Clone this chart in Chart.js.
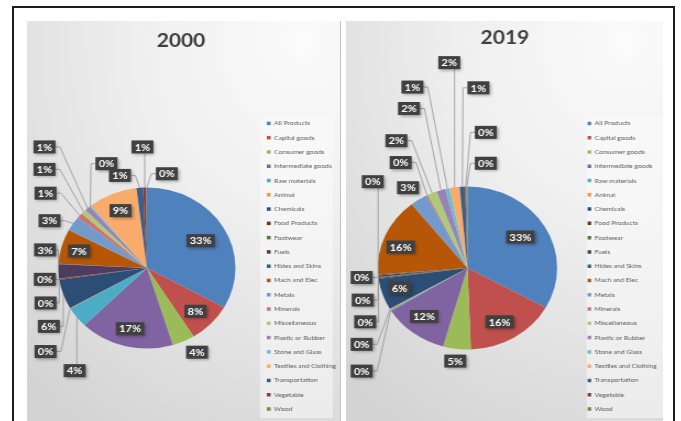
<!DOCTYPE html>
<html>
<head>
<meta charset="utf-8">
<script src="https://cdn.jsdelivr.net/npm/chart.js@4.4.1/dist/chart.umd.min.js"></script>
<style>
html,body{margin:0;padding:0;background:#fff;}
body{width:681px;height:421px;overflow:hidden;position:relative;}
#frame{position:absolute;left:12px;top:6px;width:663px;height:440px;box-sizing:border-box;border:2px solid #1e1e1e;}
.panel{position:absolute;top:21px;height:400px;overflow:hidden;
  background:radial-gradient(ellipse 130% 115% at 88% 5%, #fbfbfb 0%, #efefef 40%, #dfdfdf 75%, #d3d3d3 100%);}
#p1{left:27px;width:314px;box-sizing:border-box;border-right:1px solid #c2c2c2;}
#p2{left:346px;width:317px;}
.wrap{position:absolute;left:0;top:0;transform:scaleX(1.1);transform-origin:0 0;}
canvas{display:block;}
</style>
</head>
<body>
<div id="frame"></div>
<div class="panel" id="p1"><div class="wrap"><canvas id="c1" width="285" height="400"></canvas></div></div>
<div class="panel" id="p2"><div class="wrap"><canvas id="c2" width="288" height="400"></canvas></div></div>
<script>
// ---- data ----
const categories = ['All Products','Capital goods','Consumer goods','Intermediate goods','Raw materials','Animal','Chemicals','Food Products','Footwear','Fuels','Hides and Skins','Mach and Elec','Metals','Minerals','Miscellaneous','Plastic or Rubber','Stone and Glass','Textiles and Clothing','Transportation','Vegetable','Wood'];
const years = ['2000','2019'];
const share2000 = [33.2,8.0,4.1,17.2,4.2,0.1,5.9,0.2,0.1,2.8,0.1,7.0,3.0,1.0,1.0,1.0,0.3,9.0,1.2,0.6,0.1];
const share2019 = [33.2,16.3,5.0,11.8,0.3,0.2,6.2,0.2,0.2,0.3,0.2,15.6,3.1,0.3,1.7,1.6,0.8,1.8,1.0,0.2,0.2];

// ---- styles ----
const sliceColors = ['#4F81BD','#C0504D','#9BBB59','#8064A2','#4BACC6','#F79646','#2C4D75','#772C2A','#5F7530','#4D3B62','#276A7C','#B65708','#729ACA','#CD7371','#AFC97A','#9983B5','#6FBDD1','#F9AB6B','#3A5F8B','#8E3B39','#728C43'];

// label placement: [mode, dx, dy] in units of pie radius from centre
const labelLayout2000 = [
 ['in',0.606,-0.34],['in',0.548,0.5375],['in',0.566,1.046],['in',-0.19,0.754],
 ['out',-0.816,1.275],['out',-1.145,1.0375],['out',-1.108,0.725],['out',-1.145,0.434],
 ['out',-1.153,0.141],['out',-1.15,-0.225],null,['in',-0.767,-0.2125],
 ['out',-1.1,-0.5875],['out',-1.145,-0.929],['out',-1.157,-1.225],['out',-1.157,-1.504],
 ['out',-0.457,-1.296],['in',-0.298,-0.7125],['out',-0.305,-1.15],['out',-0.051,-1.504],['out',0.225,-1.171]
];
const labelLayout2019 = [
 ['in',0.59,-0.38],['in',0.358,0.66],['in',-0.136,1.142],['in',-0.484,0.595],
 ['out',-1.18,1.265],['out',-1.18,0.937],['in',-0.757,0.246],['out',-1.141,0.66],
 ['out',-1.168,0.394],['out',-1.18,0.117],['out',-1.056,-1.059],['in',-0.745,-0.257],
 ['in',-0.663,-0.985],['out',-0.745,-1.294],['out',-0.793,-1.562],['out',-0.652,-1.957],
 ['out',-0.614,-2.22],['out',-0.203,-2.52],['out',0.122,-2.211],['out',0.205,-1.664],['out',0.205,-1.285]
];

const pieLabels = {
  id: 'pieLabels',
  afterDatasetsDraw(chart, args, opts) {
    const meta = chart.getDatasetMeta(0);
    const data = chart.data.datasets[0].data;
    const total = data.reduce((a, b) => a + b, 0);
    const ctx = chart.ctx;
    ctx.save();
    ctx.font = 'bold 10px Lato, "Open Sans", sans-serif';
    ctx.textAlign = 'center';
    ctx.textBaseline = 'middle';
    meta.data.forEach((arc, i) => {
      const L = opts.layout[i];
      if (!L) return;
      const p = arc.getProps(['x','y','outerRadius','startAngle','endAngle'], true);
      const text = Math.round(data[i] / total * 100) + '%';
      const cx = p.x + L[1] * p.outerRadius, cy = p.y + L[2] * p.outerRadius;
      const tw = ctx.measureText(text).width;
      const bw = tw + 6, bh = 13;
      const bx0 = cx - bw / 2, by0 = cy - bh / 2, bx1 = cx + bw / 2, by1 = cy + bh / 2;
      if (L[0] === 'out') {
        const mid = (p.startAngle + p.endAngle) / 2;
        const ax = p.x + Math.cos(mid) * p.outerRadius, ay = p.y + Math.sin(mid) * p.outerRadius;
        ctx.strokeStyle = '#929292';
        ctx.lineWidth = 0.8;
        ctx.beginPath();
        if (ax >= bx0 && ax <= bx1) {
          ctx.moveTo(ax, ay > cy ? by1 : by0);
          ctx.lineTo(ax, ay);
        } else if (ax > bx1) {
          ctx.moveTo(bx1, cy); ctx.lineTo(Math.min(bx1 + 4, ax), cy); ctx.lineTo(ax, ay);
        } else {
          ctx.moveTo(bx0, cy); ctx.lineTo(Math.max(bx0 - 4, ax), cy); ctx.lineTo(ax, ay);
        }
        ctx.stroke();
      }
      ctx.save();
      ctx.shadowColor = 'rgba(0,0,0,0.35)';
      ctx.shadowBlur = 3;
      ctx.shadowOffsetX = 1.5;
      ctx.shadowOffsetY = 1.5;
      ctx.fillStyle = '#404040';
      ctx.fillRect(bx0, by0, bw, bh);
      ctx.restore();
      ctx.fillStyle = '#ffffff';
      ctx.fillText(text, cx, cy + 0.5);
    });
    ctx.restore();
  }
};

const legendBox = {
  id: 'legendBox',
  beforeDraw(chart, args, opts) {
    const lg = chart.legend;
    if (!lg) return;
    const ctx = chart.ctx;
    ctx.save();
    ctx.fillStyle = 'rgba(252,252,252,0.5)';
    ctx.fillRect(lg.left + opts.l, lg.top + 2, opts.r - opts.l, 301);
    ctx.restore();
  }
};

function makeChart(id, year, values, layout, geo) {
  return new Chart(document.getElementById(id), {
    type: 'pie',
    data: {
      labels: categories,
      datasets: [{
        data: values,
        backgroundColor: sliceColors,
        borderWidth: 0,
        radius: geo.radius
      }]
    },
    options: {
      responsive: false,
      animation: false,
      events: [],
      layout: { padding: { left: geo.pl, right: geo.pr, top: 0, bottom: 0 } },
      plugins: {
        title: {
          display: true,
          text: year,
          color: '#404040',
          font: { family: 'Lato, "Open Sans", sans-serif', size: 19, weight: 'bold' },
          padding: { top: geo.tTop, bottom: geo.tBottom }
        },
        legend: {
          display: true,
          position: 'right',
          align: 'start',
          fullSize: false,
          maxWidth: 68,
          title: { display: true, text: '', font: { size: 1 }, padding: { top: 4.1, bottom: 0 } },
          labels: {
            color: '#5a5a5a',
            font: { family: 'Lato, "Open Sans", sans-serif', size: 6.2, lineHeight: '14.28px' },
            boxWidth: 3.5,
            boxHeight: 3.5,
            padding: 0,
            generateLabels(chart) {
              const items = Chart.overrides.doughnut.plugins.legend.labels.generateLabels(chart);
              items.forEach(it => { it.text = [it.text]; });
              return items;
            }
          }
        },
        tooltip: { enabled: false },
        pieLabels: { layout: layout },
        legendBox: { l: geo.bgL, r: geo.bgR }
      }
    },
    plugins: [pieLabels, legendBox]
  });
}

makeChart('c1', years[0], share2000, labelLayout2000,
  { radius: 80.5, pl: -6, pr: -1, tTop: 8.3, tBottom: 62.9, bgL: -6.2, bgR: 60 });
makeChart('c2', years[1], share2019, labelLayout2019,
  { radius: 81.5, pl: 1.4, pr: 0.6, tTop: 5.9, tBottom: 65.3, bgL: -0.6, bgR: 68.6 });
</script>
</body>
</html>
